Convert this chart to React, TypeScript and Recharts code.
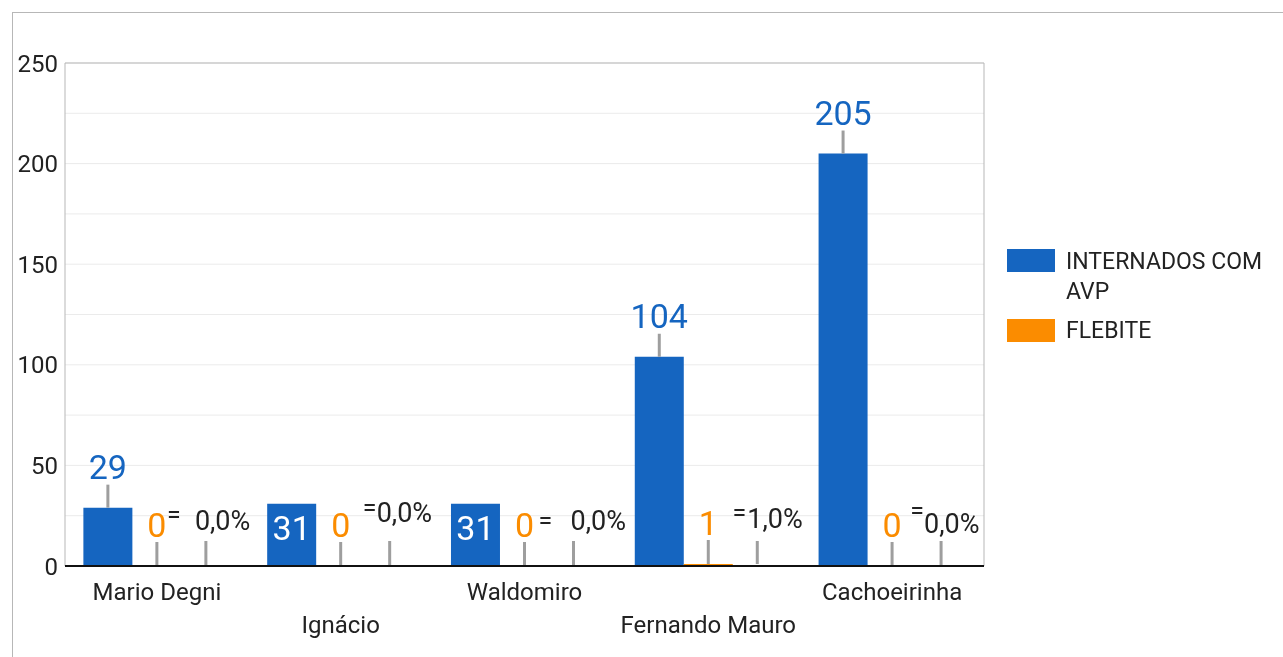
import React from 'react';
import { BarChart, Bar, XAxis, YAxis, CartesianGrid, LabelList, ReferenceLine } from 'recharts';

const categories = ['Mario Degni', 'Ignácio', 'Waldomiro', 'Fernando Mauro', 'Cachoeirinha'];
const internados = [29, 31, 31, 104, 205];
const flebite = [0, 0, 0, 1, 0];
const taxa = [0, 0, 0, 1, 0];
const yTicks = [0, 25, 50, 75, 100, 125, 150, 175, 200, 225, 250];

const seriesNames = ['INTERNADOS COM AVP', 'FLEBITE'];
const BLUE = '#1565c0';
const ORANGE = '#fb8c00';
const STEM = '#9e9e9e';
const TEXT = '#222';
const FONT = 'Roboto, sans-serif';

// where the percent annotations were pushed to avoid collisions (relative to stem / axis)
const pctNudge = [
  { eqX: -32, eqY: -43, txtX: -11, txtY: -36 },
  { eqX: -20, eqY: -50, txtX: -13, txtY: -44 },
  { eqX: -28, eqY: -37, txtX: -3, txtY: -36 },
  { eqX: -18, eqY: -45, txtX: -10, txtY: -38 },
  { eqX: -24, eqY: -47, txtX: -17, txtY: -33 },
];

const data = categories.map((name, i) => ({
  name,
  internados: internados[i],
  flebite: flebite[i],
  taxa: taxa[i],
}));

const fmtPct = (v: number) => v.toFixed(1).replace('.', ',') + '%';

function BlueLabel(props: any) {
  const { x, y, width, value } = props;
  const cx = x + width / 2;
  if (value > 29 && value < 100) {
    return (
      <text x={cx} y={y + 36} textAnchor="middle" fill="#fff" fontSize={34} fontFamily={FONT}>
        {value}
      </text>
    );
  }
  return (
    <g>
      <line x1={cx} x2={cx} y1={y} y2={y - 23} stroke={STEM} strokeWidth={3} />
      <text x={cx} y={y - 29} textAnchor="middle" fill={BLUE} fontSize={34} fontFamily={FONT}>
        {value}
      </text>
    </g>
  );
}

// orange bars: bar + stem + value label (drawn in the shape so zero values still get a label)
function FlebiteShape(props: any) {
  const { x, y, width, height, payload } = props;
  const v = payload.flebite;
  const bottom = y + height;
  const top = v > 0 ? y : bottom;
  const cx = x + width / 2;
  return (
    <g>
      {v > 0 && <rect x={x} y={top} width={width} height={bottom - top} fill={ORANGE} />}
      <line x1={cx} x2={cx} y1={top} y2={top - 24} stroke={STEM} strokeWidth={3} />
      <text x={cx} y={top - 29} textAnchor="middle" fill={ORANGE} fontSize={34} fontFamily={FONT}>
        {v}
      </text>
    </g>
  );
}

function TaxaShape(props: any) {
  const { x, y, width, height, payload, index } = props;
  const v = payload.taxa;
  const bottom = y + height;
  const top = v > 0 ? y : bottom;
  const cx = x + width / 2;
  const n = pctNudge[index] || pctNudge[0];
  return (
    <g>
      <line x1={cx} x2={cx} y1={top} y2={bottom - 25} stroke={STEM} strokeWidth={3} />
      <text x={cx + n.eqX} y={bottom + n.eqY} textAnchor="middle" fill={TEXT} fontSize={25} fontFamily={FONT}>
        =
      </text>
      <text x={cx + n.txtX} y={bottom + n.txtY} textAnchor="start" fill={TEXT} fontSize={27} fontFamily={FONT}>
        {fmtPct(v)}
      </text>
    </g>
  );
}

function XTick(props: any) {
  const { x, y, payload, index } = props;
  const dy = index % 2 === 0 ? 34 : 67;
  return (
    <text x={x} y={y + dy} textAnchor="middle" fill={TEXT} fontSize={24} fontFamily={FONT}>
      {payload.value}
    </text>
  );
}

function YTick(props: any) {
  const { x, y, payload } = props;
  if (payload.value % 50 !== 0) return null;
  return (
    <text x={x} y={y} dy="0.36em" textAnchor="end" fill={TEXT} fontSize={24} fontFamily={FONT}>
      {payload.value}
    </text>
  );
}

export default function App() {
  return (
    <div style={{ position: 'relative', width: 1260, height: 640, fontFamily: FONT }}>
      <div
        style={{
          position: 'fixed',
          left: 12,
          top: 12,
          right: 0,
          bottom: 0,
          borderTop: '1px solid #b7b7b7',
          borderLeft: '1px solid #b7b7b7',
          pointerEvents: 'none',
        }}
      />
      <BarChart
        width={1260}
        height={640}
        data={data}
        margin={{ top: 55, right: 283, left: 7, bottom: 12 }}
        barCategoryGap="10%"
        barGap={0}
      >
        <CartesianGrid vertical={false} stroke="#ebebeb" />
        <ReferenceLine y={250} stroke="#b7b7b7" strokeWidth={1} />
        <YAxis
          domain={[0, 250]}
          ticks={yTicks}
          interval={0}
          width={50}
          tickLine={false}
          tickSize={0}
          tickMargin={7}
          axisLine={{ stroke: '#b7b7b7' }}
          tick={<YTick />}
        />
        <YAxis
          yAxisId="right"
          orientation="right"
          domain={[0, 250]}
          width={1}
          tick={false}
          tickLine={false}
          axisLine={{ stroke: '#b7b7b7' }}
        />
        <XAxis
          dataKey="name"
          interval={0}
          height={70}
          tickLine={false}
          tickSize={0}
          tickMargin={0}
          axisLine={{ stroke: '#111', strokeWidth: 2 }}
          tick={<XTick />}
        />
        <Bar dataKey="internados" name={seriesNames[0]} fill={BLUE} isAnimationActive={false}>
          <LabelList dataKey="internados" content={<BlueLabel />} />
        </Bar>
        <Bar
          dataKey="flebite"
          name={seriesNames[1]}
          fill={ORANGE}
          minPointSize={1}
          shape={<FlebiteShape />}
          isAnimationActive={false}
        />
        <Bar dataKey="taxa" name="taxa" fill="none" minPointSize={1} shape={<TaxaShape />} isAnimationActive={false} />
      </BarChart>
      <div style={{ position: 'absolute', left: 0, top: 0, fontSize: 23, color: TEXT, lineHeight: '30px' }}>
        {seriesNames.map((s, i) => (
          <React.Fragment key={s}>
            <div
              style={{
                position: 'absolute',
                left: 999,
                top: i === 0 ? 241 : 311,
                width: 48,
                height: 23,
                background: i === 0 ? BLUE : ORANGE,
              }}
            />
            <div style={{ position: 'absolute', left: 1058, top: i === 0 ? 239 : 308, width: 205, whiteSpace: 'normal' }}>
              {s}
            </div>
          </React.Fragment>
        ))}
      </div>
    </div>
  );
}
